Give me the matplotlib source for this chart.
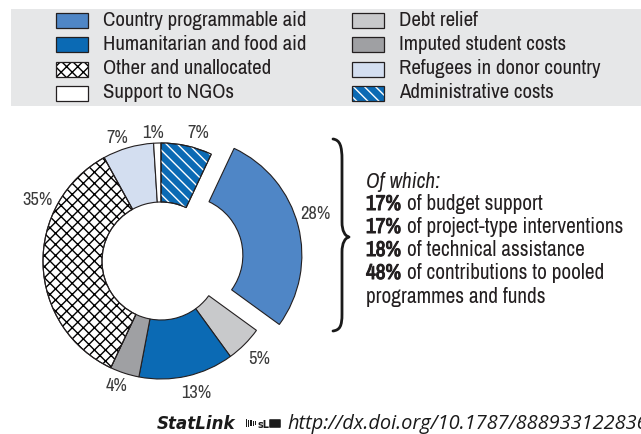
import matplotlib
matplotlib.use("Agg")
import numpy as np
import matplotlib.pyplot as plt
from matplotlib import font_manager
from matplotlib import patheffects
from matplotlib.patches import Rectangle, PathPatch, Wedge, FancyBboxPatch
from matplotlib.path import Path

# ---- data -------------------------------------------------------------
categories = ["Administrative costs", "Country programmable aid", "Debt relief",
              "Humanitarian and food aid", "Imputed student costs",
              "Other and unallocated", "Refugees in donor country",
              "Support to NGOs"]
shares = [7, 28, 5, 13, 4, 35, 7, 1]
share_labels = ["7%", "28%", "5%", "13%", "4%", "35%", "7%", "1%"]

legend_col1 = ["Country programmable aid", "Humanitarian and food aid",
               "Other and unallocated", "Support to NGOs"]
legend_col2 = ["Debt relief", "Imputed student costs",
               "Refugees in donor country", "Administrative costs"]

note_title = "Of which:"
note_pcts = ["17%", "17%", "18%", "48%"]
note_texts = ["of budget support", "of project-type interventions",
              "of technical assistance", "of contributions to pooled"]
note_tail = "programmes and funds"

url = "http://dx.doi.org/10.1787/888933122836"

# ---- styles -----------------------------------------------------------
colors = {
    "Country programmable aid": "#4F86C6",
    "Humanitarian and food aid": "#0B6AB4",
    "Other and unallocated": "white",
    "Support to NGOs": "white",
    "Debt relief": "#C8C9CB",
    "Imputed student costs": "#9FA0A3",
    "Refugees in donor country": "#D3DEF0",
    "Administrative costs": "#0B6AB4",
}
hatches = {"Other and unallocated": ("xxx", "black"),
           "Administrative costs": ("\\\\\\", "white")}

# prefer a narrow sans face when one is installed
fonts = font_manager.fontManager.ttflist
names = sorted({f.name for f in fonts})
narrow = [n for n in names if "Narrow" in n or "Condensed" in n]
if "Liberation Sans Narrow" in narrow:
    base = "Liberation Sans Narrow"
elif narrow:
    base = narrow[0]
elif "Liberation Sans" in names:
    base = "Liberation Sans"
else:
    base = "DejaVu Sans"
url_family = "Open Sans" if "Open Sans" in names else "DejaVu Sans"

plt.rcParams["font.family"] = [base, "DejaVu Sans"]
plt.rcParams["hatch.linewidth"] = 1.0
TXT = "#231F20"

W, H = 641, 434
fig = plt.figure(figsize=(W / 100, H / 100), dpi=100)
renderer = fig.canvas.get_renderer()

# overlay in pixel coordinates
ov = fig.add_axes([0, 0, 1, 1])
ov.set_xlim(0, W)
ov.set_ylim(H, 0)
ov.axis("off")


def text_width(text, size, **kw):
    t = ov.text(0, 0, text, fontsize=size, **kw)
    w = t.get_window_extent(renderer).width
    t.remove()
    return w


def fit_size(text, width_px, **kw):
    """Font size at which `text` spans `width_px` pixels."""
    return 10 * width_px / text_width(text, 10, **kw)


fs_leg = fit_size("Country programmable aid", 204)
fs_note = fit_size("of project-type interventions", 218)
fs_pct = fit_size("28%", 30)
fs_url = fit_size("http://dx.doi.org/10.1787/88893312283", 350, style="italic",
                  family=[url_family])
space_w = text_width("a a", fs_note) - text_width("aa", fs_note)
heavy = [patheffects.withStroke(linewidth=0.75, foreground=TXT)]

# legend band
ov.add_patch(Rectangle((11, 9), W - 11, 97, facecolor="#E6E7E8", edgecolor="none"))


def legend_box(x, y, name):
    fc = colors[name]
    ov.add_patch(Rectangle((x, y - 7.5), 32, 15, facecolor=fc, edgecolor="none"))
    if name in hatches:
        h, hc = hatches[name]
        ov.add_patch(Rectangle((x, y - 7.5), 32, 15, facecolor="none",
                               edgecolor=hc, linewidth=0, hatch=h))
    ov.add_patch(Rectangle((x, y - 7.5), 32, 15, facecolor="none",
                           edgecolor="#231F20", linewidth=0.9))


row_y = [20.5, 44.5, 69, 93]
for y, name in zip(row_y, legend_col1):
    legend_box(56, y, name)
    ov.text(103, y, name, fontsize=fs_leg, color=TXT, va="center", ha="left")
for y, name in zip(row_y, legend_col2):
    legend_box(352, y, name)
    ov.text(399, y, name, fontsize=fs_leg, color=TXT, va="center", ha="left")

# ---- donut ------------------------------------------------------------
cx, cy, R = 161, 261, 118
span = 160
pax = fig.add_axes([(cx - span) / W, (H - cy - span) / H, 2 * span / W, 2 * span / H])
explode = [0.2 if c == "Country programmable aid" else 0 for c in categories]
wedges, _ = pax.pie(shares, startangle=90, counterclock=False, explode=explode,
                    colors=[colors[c] for c in categories],
                    wedgeprops=dict(width=0.5, edgecolor="#231F20", linewidth=0.8))
for w, c in zip(wedges, categories):
    if c in hatches:
        h, hc = hatches[c]
        pax.add_patch(Wedge(w.center, w.r, w.theta1, w.theta2, width=w.width,
                            facecolor="none", edgecolor=hc, linewidth=0,
                            hatch=h, zorder=w.get_zorder() + 0.1))
        pax.add_patch(Wedge(w.center, w.r, w.theta1, w.theta2, width=w.width,
                            facecolor="none", edgecolor="#231F20",
                            linewidth=0.8, zorder=w.get_zorder() + 0.2))
pax.set_xlim(-span / R, span / R)
pax.set_ylim(-span / R, span / R)
pax.axis("off")

# label positions (radius fraction, angle in degrees)
label_pos = [(1.13, 74), (1.37, 17), (1.18, -45), (1.16, -75),
             (1.12, -109.5), (1.17, 153.8), (1.11, 109.7), (1.09, 93.5)]
for (r, a), lab in zip(label_pos, share_labels):
    t = np.deg2rad(a)
    pax.text(r * np.cos(t), r * np.sin(t), lab, fontsize=fs_pct, color="#3A3A3A",
             ha="center", va="center")

# ---- brace ------------------------------------------------------------
verts = [(333, 139), (340, 140), (342, 146), (342, 160),
         (342, 222), (342, 231), (345, 236), (349, 237),
         (345, 238), (342, 243), (342, 252),
         (342, 314), (342, 326), (340, 330), (333, 331)]
codes = [Path.MOVETO, Path.CURVE4, Path.CURVE4, Path.CURVE4,
         Path.LINETO, Path.CURVE4, Path.CURVE4, Path.CURVE4,
         Path.CURVE4, Path.CURVE4, Path.CURVE4,
         Path.LINETO, Path.CURVE4, Path.CURVE4, Path.CURVE4]
ov.add_patch(PathPatch(Path(verts, codes), facecolor="none", edgecolor="#1A1A1A",
                       linewidth=2.0, capstyle="round", joinstyle="round"))

# ---- note -------------------------------------------------------------
nx = 366
ov.text(nx, 182, note_title, fontsize=fs_note, color=TXT, style="italic", va="center")
line_y = [205, 228, 251, 274]
for y, p, s in zip(line_y, note_pcts, note_texts):
    base_y = y + 5
    bw = text_width(p, fs_note) + 1
    ov.text(nx, base_y, p, fontsize=fs_note, color=TXT, va="baseline",
            path_effects=heavy)
    ov.text(nx + bw + space_w, base_y, s, fontsize=fs_note, color=TXT, va="baseline")
ov.text(nx, 297, note_tail, fontsize=fs_note, color=TXT, va="center")

# ---- StatLink footer ----------------------------------------------------
ov.text(157, 429, "StatLink", fontsize=12, fontweight="bold", style="italic",
        family="DejaVu Sans", color="#1A1A1A", va="baseline")
for i in range(5):
    ov.add_patch(Rectangle((246 + i * 2.2, 419 + i * 0.5), 1.1, 8 - i * 0.9,
                           facecolor="#1A1A1A", edgecolor="none"))
ov.text(258, 428.5, "sL", fontsize=7, fontweight="bold", family="DejaVu Sans",
        color="#1A1A1A", va="baseline")
ov.add_patch(FancyBboxPatch((270, 420), 10, 7, boxstyle="round,pad=0.8",
                            facecolor="#1A1A1A", edgecolor="none"))
ov.text(287, 429, url, fontsize=fs_url, style="italic", family=[url_family],
        color="#1A1A1A", va="baseline")

fig.savefig("out.png", dpi=100)
